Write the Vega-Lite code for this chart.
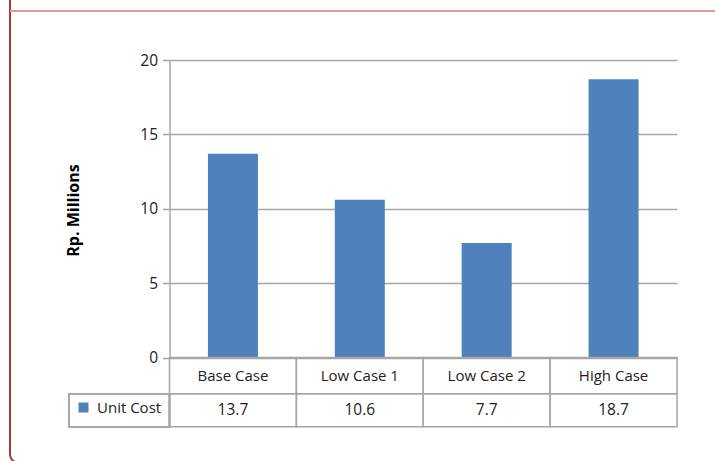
{
  "$schema": "https://vega.github.io/schema/vega-lite/v6.json",
  "width": 715,
  "height": 472.5,
  "autosize": {"type": "none"},
  "padding": {"left": 10, "top": -10, "right": 0, "bottom": 0},
  "config": {
    "view": {"stroke": "#a33b3b", "strokeWidth": 2, "cornerRadius": 8, "fill": "white"},
    "font": "Open Sans"
  },
  "data": {
    "values": [
      {"case": "Base Case", "cost": 13.7, "series": "Unit Cost"},
      {"case": "Low Case 1", "cost": 10.6, "series": "Unit Cost"},
      {"case": "Low Case 2", "cost": 7.7, "series": "Unit Cost"},
      {"case": "High Case", "cost": 18.7, "series": "Unit Cost"}
    ]
  },
  "resolve": {"scale": {"x": "independent"}},
  "layer": [
    {
      "layer": [
        {
          "mark": {"type": "rule", "color": "#df9a9a", "strokeWidth": 2},
          "encoding": {"y": {"datum": 23.29, "type": "quantitative"}}
        },
        {
          "mark": {"type": "bar", "width": {"band": 0.394}},
          "encoding": {
            "x": {
              "field": "case", "type": "nominal", "sort": null,
              "scale": {"type": "band", "range": [159.5, 667], "paddingInner": 0, "paddingOuter": 0},
              "axis": null
            },
            "y": {
              "field": "cost", "type": "quantitative",
              "scale": {"domain": [0, 20], "range": [367.5, 70], "nice": false, "zero": false},
              "axis": {
                "title": "Rp. Millions",
                "offset": -159.5,
                "values": [0, 5, 10, 15, 20],
                "grid": true, "gridColor": "#a6a6a6", "gridWidth": 1.5,
                "domain": true, "domainColor": "#a6a6a6", "domainWidth": 1.5,
                "ticks": true, "tickSize": 7, "tickColor": "#a6a6a6", "tickWidth": 1.5,
                "labelFont": "Open Sans", "labelFontSize": 15.5, "labelColor": "#222222", "labelPadding": 5,
                "titleFont": "Open Sans", "titleFontSize": 16, "titleFontWeight": "bold", "titleColor": "#000000",
                "titleX": -96, "titleY": 220, "titleAngle": -90, "titleAlign": "center", "titleBaseline": "middle"
              }
            },
            "color": {
              "field": "series", "type": "nominal",
              "scale": {"range": ["#4f81bd"]},
              "legend": {
                "orient": "none", "legendX": 66, "legendY": 410, "title": null,
                "symbolType": "square", "symbolSize": 100, "symbolStrokeWidth": 0,
                "labelFont": "Open Sans", "labelFontSize": 15, "labelColor": "#222222", "labelOffset": 6,
                "padding": 0
              }
            }
          }
        },
        {
          "mark": {"type": "rect", "fillOpacity": 0, "stroke": "#a6a6a6", "strokeWidth": 1.5},
          "encoding": {
            "x": {"field": "case", "type": "nominal", "sort": null},
            "y": {"datum": 0, "type": "quantitative"},
            "y2": {"datum": -2.434}
          }
        },
        {
          "mark": {"type": "rect", "fillOpacity": 0, "stroke": "#a6a6a6", "strokeWidth": 1.5},
          "encoding": {
            "x": {"field": "case", "type": "nominal", "sort": null},
            "y": {"datum": -2.434, "type": "quantitative"},
            "y2": {"datum": -4.652}
          }
        },
        {
          "mark": {"type": "text", "fontSize": 15, "font": "Open Sans", "color": "#222222", "baseline": "middle"},
          "encoding": {
            "x": {"field": "case", "type": "nominal", "sort": null},
            "y": {"datum": -1.22, "type": "quantitative"},
            "text": {"field": "case"}
          }
        },
        {
          "mark": {"type": "text", "fontSize": 15.5, "font": "Open Sans", "color": "#222222", "baseline": "middle"},
          "encoding": {
            "x": {"field": "case", "type": "nominal", "sort": null},
            "y": {"datum": -3.53, "type": "quantitative"},
            "text": {"field": "cost", "format": ".1f"}
          }
        }
      ]
    },
    {
      "layer": [
        {
          "mark": {"type": "rect", "fillOpacity": 0, "stroke": "#a6a6a6", "strokeWidth": 1.5},
          "encoding": {
            "x": {
              "field": "series", "type": "nominal",
              "scale": {"type": "band", "range": [59, 159.5], "paddingInner": 0, "paddingOuter": 0},
              "axis": null
            },
            "y": {"datum": -2.434, "type": "quantitative"},
            "y2": {"datum": -4.652}
          }
        }
      ]
    }
  ]
}
